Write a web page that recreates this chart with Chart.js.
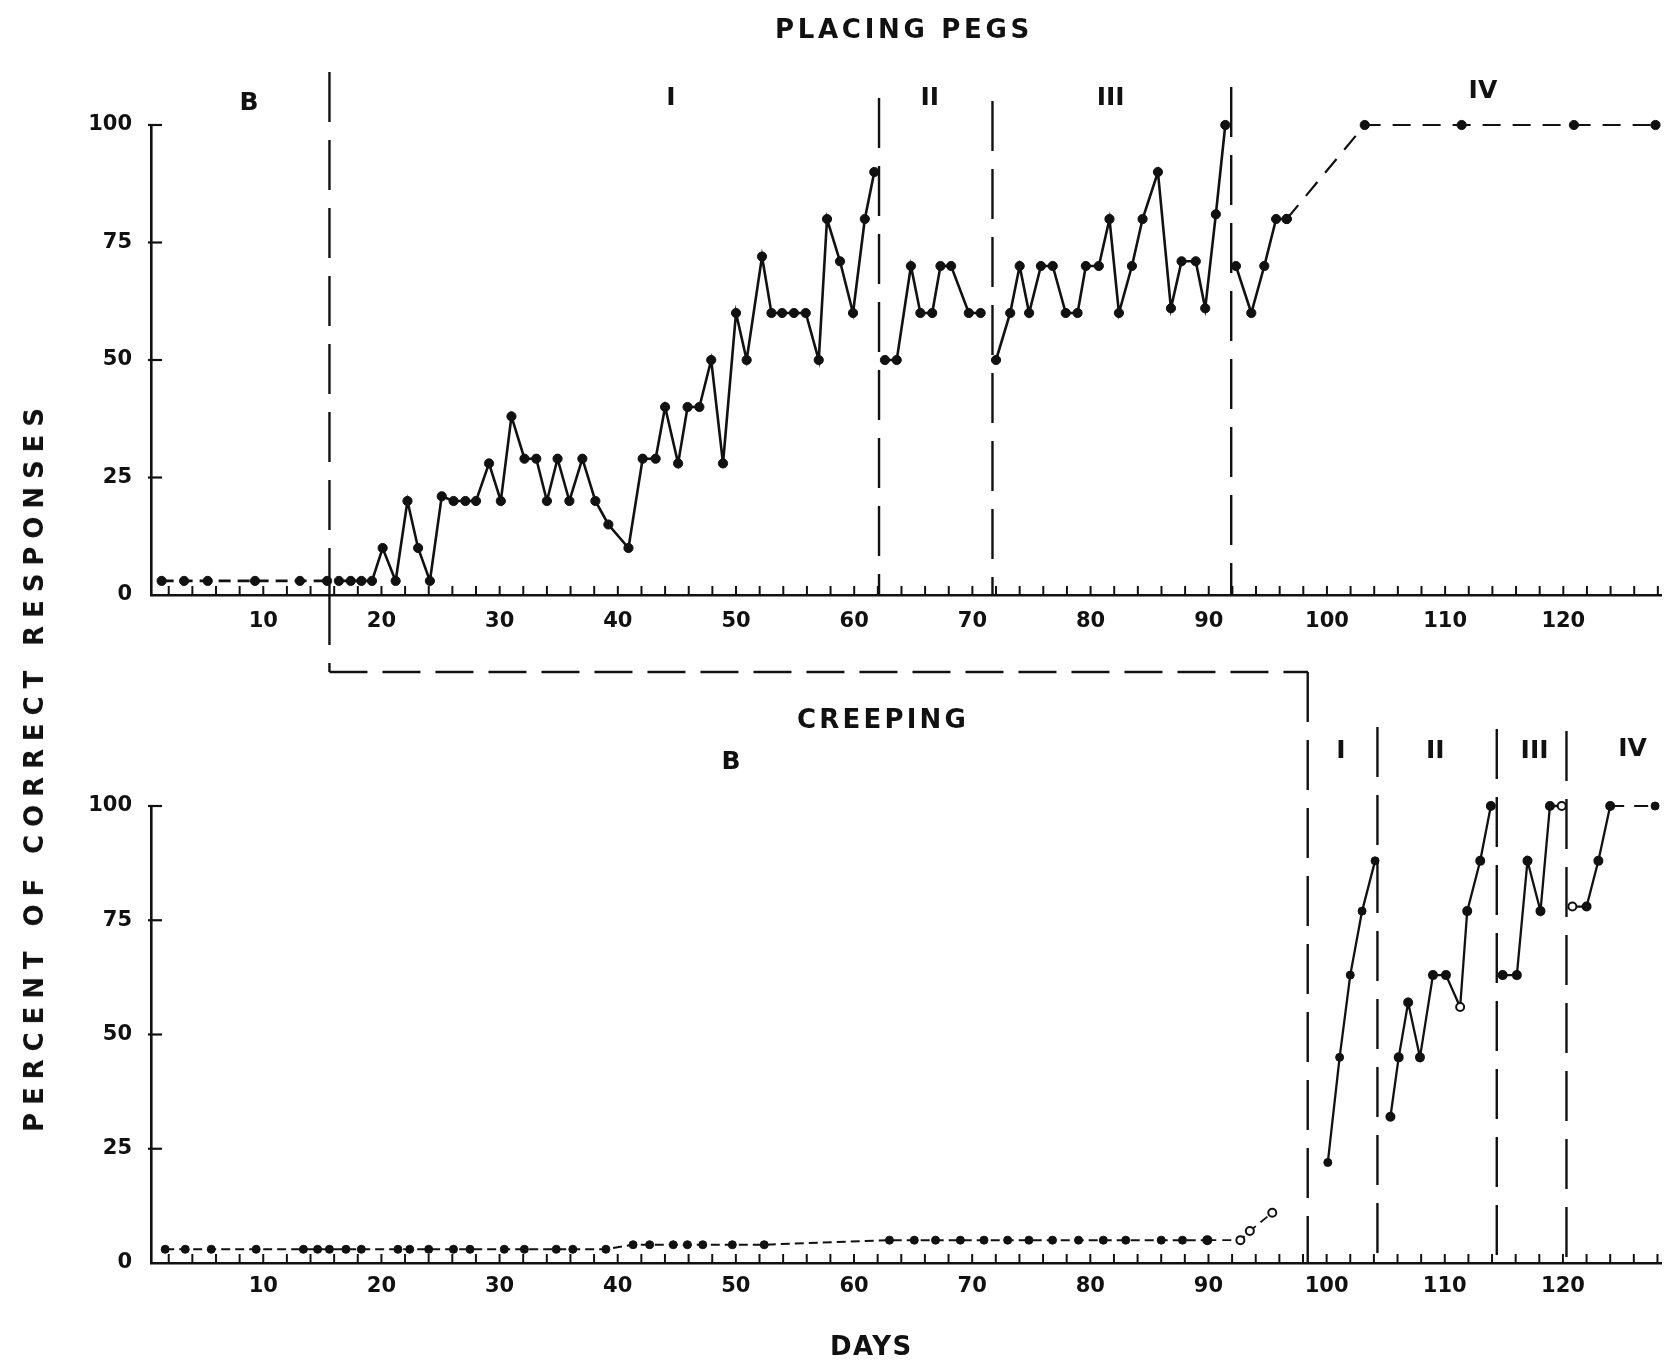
<!DOCTYPE html>
<html>
<head>
<meta charset="utf-8">
<script src="https://cdn.jsdelivr.net/npm/chart.js@4.4.1/dist/chart.umd.min.js"></script>
<style>
  body { margin: 0; background: #fff; }
  #page { position: relative; width: 1667px; height: 1362px; overflow: hidden; font-family: "DejaVu Sans", sans-serif; color: #111; }
  canvas { position: absolute; left: 0; }
  .lbl { position: absolute; font-weight: bold; white-space: nowrap; line-height: 1; }
</style>
</head>
<body>
<div id="page">
  <canvas id="pegs" width="1667" height="700" style="top:0"></canvas>
  <canvas id="creep" width="1667" height="702" style="top:660px"></canvas>
  <div class="lbl" style="left:775px; top:16px; font-size:26px; letter-spacing:3.7px">PLACING PEGS</div>
  <div class="lbl" style="left:797px; top:706px; font-size:26px; letter-spacing:3.2px">CREEPING</div>
  <div class="lbl" style="left:830px; top:1333px; font-size:26px; letter-spacing:1.5px">DAYS</div>
  <div class="lbl" style="left:34px; top:766px; font-size:26px; letter-spacing:7.9px; transform:translate(-50%,-50%) rotate(-90deg)">PERCENT OF CORRECT RESPONSES</div>
</div>
<script>
// axis ticks
const dayTicks = [10, 20, 30, 40, 50, 60, 70, 80, 90, 100, 110, 120];
const pctTicks = [0, 25, 50, 75, 100];
const phaseNames = ['B', 'I', 'II', 'III', 'IV'];

// placing pegs (top)
const pegsBaseDays = [1.4, 3.3, 5.3, 9.3, 13.1, 15.4];
const pegsBaseVals = [3, 3, 3, 3, 3, 3];
const pegsDays1 = [16.4, 17.4, 18.3, 19.2, 20.1, 21.2, 22.2, 23.1, 24.1, 25.1, 26.1, 27.1, 28, 29.1, 30.1, 31, 32.1, 33.1, 34, 34.9, 35.9, 37, 38.1, 39.2, 40.9, 42.1, 43.2, 44, 45.1, 45.9, 46.9, 47.9, 48.9, 50, 50.9, 52.2, 53, 53.9, 54.9, 55.9, 57, 57.7, 58.8, 59.9, 60.9, 61.7];
const pegsVals1 = [3, 3, 3, 3, 10, 3, 20, 10, 3, 21, 20, 20, 20, 28, 20, 38, 29, 29, 20, 29, 20, 29, 20, 15, 10, 29, 29, 40, 28, 40, 40, 50, 28, 60, 50, 72, 60, 60, 60, 60, 50, 80, 71, 60, 80, 90];
const pegsDays2 = [62.6, 63.6, 64.8, 65.6, 66.6, 67.3, 68.2, 69.7, 70.7];
const pegsVals2 = [50, 50, 70, 60, 60, 70, 70, 60, 60];
const pegsDays3 = [72, 73.2, 74, 74.8, 75.8, 76.8, 77.9, 78.9, 79.6, 80.7, 81.6, 82.4, 83.5, 84.4, 85.7, 86.8, 87.7, 88.9, 89.7, 90.6, 91.4];
const pegsVals3 = [50, 60, 70, 60, 70, 70, 60, 60, 70, 70, 80, 60, 70, 80, 90, 61, 71, 71, 61, 81, 100];
const pegsDays4 = [92.3, 93.6, 94.7, 95.7, 96.6];
const pegsVals4 = [70, 60, 70, 80, 80];
const pegsDays4b = [96.6, 103.2, 111.4, 120.9, 127.8];
const pegsVals4b = [80, 100, 100, 100, 100];
const pegsPhaseDays = [15.6, 62.1, 71.7, 91.9];
const pegsLabelDays = [8.8, 44.5, 66.4, 81.7, 113.2];

// creeping (bottom)
const creepBaseDays = [1.7, 3.4, 5.6, 9.4, 13.4, 14.6, 15.6, 17, 18.3, 21.4, 22.4, 24, 26.1, 27.5, 30.4, 32.1, 34.8, 36.2, 39, 41.3, 42.7, 44.7, 45.9, 47.2, 49.7, 52.4, 63, 65.1, 66.9, 69, 71, 73, 74.8, 76.8, 79, 81.1, 83, 86, 87.8, 89.9];
const creepBaseVals = [3, 3, 3, 3, 3, 3, 3, 3, 3, 3, 3, 3, 3, 3, 3, 3, 3, 3, 3, 4, 4, 4, 4, 4, 4, 4, 5, 5, 5, 5, 5, 5, 5, 5, 5, 5, 5, 5, 5, 5];
const creepTailDays = [89.9, 92.7, 93.5, 95.4];
const creepTailVals = [5, 5, 7, 11];
const creepDays1 = [100.1, 101.1, 102, 103, 104.1];
const creepVals1 = [22, 45, 63, 77, 88];
const creepDays2 = [105.4, 106.1, 106.9, 107.9, 109, 110.1, 111.3, 111.9, 113, 113.9];
const creepVals2 = [32, 45, 57, 45, 63, 63, 56, 77, 88, 100];
const creepDays3 = [114.9, 116.1, 117, 118.1, 118.9, 119.9];
const creepVals3 = [63, 63, 88, 77, 100, 100];
const creepDays4 = [120.8, 122, 123, 124];
const creepVals4 = [78, 78, 88, 100];
const creepDays4b = [124, 127.8];
const creepVals4b = [100, 100];
const creepPhaseDays = [98.4, 104.3, 114.4, 120.3];
const creepLabelDays = [49.6, 101.2, 109.2, 117.6, 125.9];

const INK = '#111';
const tickFont = { family: 'DejaVu Sans', size: 21, weight: 'bold' };

function series(days, vals, opts) {
  return Object.assign({
    data: days.map((d, i) => ({ x: d, y: vals[i] })),
    borderColor: INK,
    borderWidth: 2.6,
    pointRadius: 4.6,
    pointBackgroundColor: INK,
    pointBorderColor: INK,
    pointBorderWidth: 1,
    tension: 0,
    clip: false
  }, opts || {});
}

// phase lines, labels, small axis ticks, connector between the two panels
const phasePlugin = {
  id: 'phases',
  afterDraw(chart, args, o) {
    const { ctx, chartArea } = chart;
    const xs = chart.scales.x, ys = chart.scales.y;
    const axisY = chartArea.bottom, axisX = chartArea.left;
    ctx.save();
    ctx.strokeStyle = INK;
    ctx.lineWidth = 2;
    // little ticks along the day axis
    for (let d = o.tickStep; d <= xs.max; d += o.tickStep) {
      const px = xs.getPixelForValue(d);
      ctx.beginPath();
      ctx.moveTo(px, axisY);
      ctx.lineTo(px, axisY - 9);
      ctx.stroke();
    }
    // inward ticks on percent axis
    ctx.lineWidth = 2.2;
    pctTicks.forEach(v => {
      if (v === 0) return;
      const py = ys.getPixelForValue(v);
      ctx.beginPath();
      ctx.moveTo(axisX - 3, py);
      ctx.lineTo(axisX + 11, py);
      ctx.stroke();
    });
    // phase change lines
    ctx.lineWidth = 2.4;
    ctx.setLineDash([50, 18]);
    o.days.forEach((d, i) => {
      const px = xs.getPixelForValue(d);
      ctx.beginPath();
      ctx.moveTo(px, o.tops[i]);
      ctx.lineTo(px, axisY);
      ctx.stroke();
    });
    if (o.link) {
      const x0 = xs.getPixelForValue(o.days[0]);
      const x1 = xs.getPixelForValue(o.link.toDay);
      ctx.beginPath();
      ctx.moveTo(x0, axisY);
      ctx.lineTo(x0, o.link.y);
      ctx.stroke();
      ctx.setLineDash([38, 15]);
      ctx.beginPath();
      ctx.moveTo(x0, o.link.y);
      ctx.lineTo(x1, o.link.y);
      ctx.stroke();
    }
    ctx.setLineDash([]);
    ctx.fillStyle = INK;
    ctx.font = 'bold 25px "DejaVu Sans"';
    ctx.textAlign = 'center';
    ctx.textBaseline = 'middle';
    phaseNames.forEach((t, i) => {
      ctx.fillText(t, xs.getPixelForValue(o.labelDays[i]), o.labelY[i]);
    });
    ctx.restore();
  }
};

function makeOptions(xHeight, padTop, labelPad, phaseOpts) {
  return {
    responsive: false,
    animation: false,
    layout: { padding: { top: padTop, right: 2, left: 0, bottom: 0 } },
    plugins: {
      legend: { display: false },
      tooltip: { enabled: false },
      phases: phaseOpts
    },
    scales: {
      x: {
        type: 'linear',
        min: 0.5,
        max: 128.3,
        afterFit: s => { s.height = xHeight; },
        afterBuildTicks: s => { s.ticks = dayTicks.map(v => ({ value: v })); },
        grid: { display: false, drawTicks: false },
        border: { display: true, color: INK, width: 2.6 },
        ticks: { color: INK, font: tickFont, padding: labelPad, maxRotation: 0, autoSkip: false }
      },
      y: {
        min: 0,
        max: 100,
        afterFit: s => { s.width = 151; },
        afterBuildTicks: s => { s.ticks = pctTicks.map(v => ({ value: v })); },
        grid: { display: false, drawTicks: false },
        border: { display: true, color: INK, width: 2.6 },
        ticks: { color: INK, font: tickFont, padding: 19 }
      }
    }
  };
}

const dashed = { borderDash: [12, 7] };

new Chart(document.getElementById('pegs'), {
  type: 'line',
  data: {
    datasets: [
      series(pegsBaseDays, pegsBaseVals, dashed),
      series(pegsDays1, pegsVals1),
      series(pegsDays2, pegsVals2),
      series(pegsDays3, pegsVals3),
      series(pegsDays4, pegsVals4),
      series(pegsDays4b, pegsVals4b, { borderDash: [18, 12], borderWidth: 2.2 })
    ]
  },
  options: makeOptions(105, 125, 14, {
    tickStep: 2,
    days: pegsPhaseDays,
    tops: [72, 98, 101, 87],
    labelDays: pegsLabelDays,
    labelY: [103, 98, 98, 98, 91],
    link: { toDay: creepPhaseDays[0], y: 672 }
  }),
  plugins: [phasePlugin]
});

const open = (n, idx) => Array.from({ length: n }, (_, i) => idx.includes(i) ? '#fff' : INK);

new Chart(document.getElementById('creep'), {
  type: 'line',
  data: {
    datasets: [
      series(creepBaseDays, creepBaseVals, { borderDash: [9, 5], borderWidth: 2, pointRadius: 4 }),
      series(creepTailDays, creepTailVals, { borderDash: [9, 6], borderWidth: 1.8, pointRadius: 4, pointBackgroundColor: open(4, [1, 2, 3]), pointBorderWidth: 2 }),
      series(creepDays1, creepVals1, { borderWidth: 2.3, pointRadius: 4 }),
      series(creepDays2, creepVals2, { borderWidth: 2.3, pointRadius: 4, pointBackgroundColor: open(10, [6]), pointBorderWidth: 2 }),
      series(creepDays3, creepVals3, { borderWidth: 2.3, pointRadius: 4, pointBackgroundColor: open(6, [5]), pointBorderWidth: 2 }),
      series(creepDays4, creepVals4, { borderWidth: 2.3, pointRadius: 4, pointBackgroundColor: open(4, [0]), pointBorderWidth: 2 }),
      series(creepDays4b, creepVals4b, { borderDash: [14, 10], borderWidth: 2, pointRadius: 4 })
    ]
  },
  options: makeOptions(99, 146, 11, {
    tickStep: 2,
    days: creepPhaseDays,
    tops: [12, 67, 69, 71],
    labelDays: creepLabelDays,
    labelY: [102, 91, 91, 91, 89]
  }),
  plugins: [phasePlugin]
});
</script>
</body>
</html>
